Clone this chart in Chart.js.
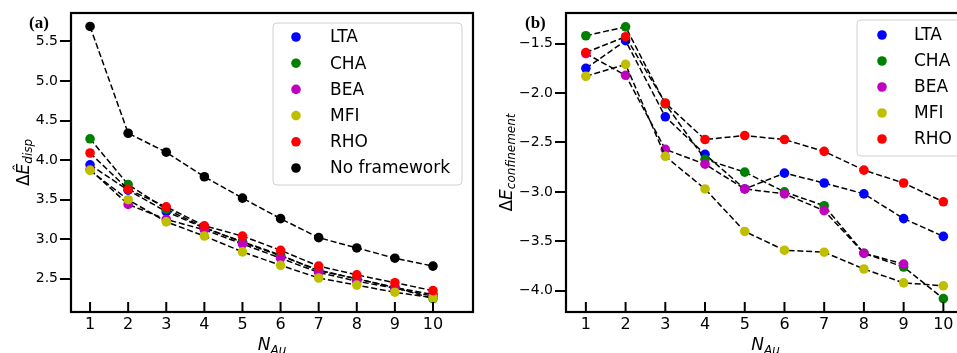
<!DOCTYPE html>
<html>
<head>
<meta charset="utf-8">
<script src="https://cdn.jsdelivr.net/npm/chart.js@4.4.0/dist/chart.umd.min.js"></script>
<style>
  html, body { margin: 0; padding: 0; background: #fff; overflow: hidden; }
  #wrap { position: relative; width: 957px; height: 353px; overflow: hidden; }
  #boxA { position: absolute; left: 0; top: 0; }
  #boxB { position: absolute; left: 480px; top: 0; }
</style>
</head>
<body>
<div id="wrap">
  <div id="boxA"><canvas id="chartA" width="480" height="353"></canvas></div>
  <div id="boxB"><canvas id="chartB" width="490" height="353"></canvas></div>
</div>
<script>
// number of Au atoms (x axis)
const nAu = [1, 2, 3, 4, 5, 6, 7, 8, 9, 10];
const frameworks = ["LTA", "CHA", "BEA", "MFI", "RHO"];
const frameworkColors = ["#0000ff", "#008000", "#bf00bf", "#bfbf00", "#ff0000"];

// (a) dispersion energy
const dispLTA = [3.94, 3.62, 3.35, 3.14, 2.97, 2.80, 2.60, 2.50, 2.39, 2.30];
const dispCHA = [4.27, 3.69, 3.38, 3.15, 2.96, 2.79, 2.61, 2.50, 2.39, 2.25];
const dispBEA = [3.88, 3.44, 3.25, 3.12, 2.94, 2.76, 2.58, 2.47, 2.38, 2.28];
const dispMFI = [3.87, 3.50, 3.22, 3.04, 2.84, 2.67, 2.51, 2.42, 2.33, 2.26];
const dispRHO = [4.09, 3.63, 3.41, 3.17, 3.04, 2.86, 2.66, 2.55, 2.45, 2.35];
const dispNoFramework = [5.69, 4.34, 4.10, 3.79, 3.52, 3.26, 3.02, 2.89, 2.76, 2.66];
const dispTicks = [2.5, 3.0, 3.5, 4.0, 4.5, 5.0, 5.5];

// (b) confinement energy
const confLTA = [-1.75, -1.47, -2.24, -2.62, -2.97, -2.81, -2.91, -3.02, -3.27, -3.45];
const confCHA = [-1.42, -1.33, -2.11, -2.67, -2.80, -3.00, -3.14, -3.62, -3.76, -4.08];
const confBEA = [-1.60, -1.82, -2.57, -2.72, -2.97, -3.02, -3.19, -3.62, -3.73, null];
const confMFI = [-1.83, -1.71, -2.64, -2.97, -3.40, -3.59, -3.61, -3.78, -3.92, -3.95];
const confRHO = [-1.59, -1.43, -2.10, -2.47, -2.43, -2.47, -2.59, -2.78, -2.91, -3.10];
const confTicks = [-4.0, -3.5, -3.0, -2.5, -2.0, -1.5];

const FONT = "DejaVu Sans";

const makeSet = (label, values, color, order) => ({
  label: label,
  data: nAu.map((n, i) => ({ x: n, y: values[i] })),
  borderColor: "#000",
  borderWidth: 1.5,
  borderDash: [6, 2.8],
  pointRadius: 4.8,
  pointHoverRadius: 4.8,
  pointBorderWidth: 0,
  pointBackgroundColor: color,
  pointBorderColor: color,
  fill: false,
  tension: 0,
  spanGaps: false,
  order: order,
});

// draws a run of text pieces (for subscripts)
function drawPieces(ctx, pieces, cx, baseY) {
  let total = 0;
  pieces.forEach((p) => { ctx.font = p.font; p.w = ctx.measureText(p.t).width; total += p.w; });
  let x = cx - total / 2;
  ctx.textBaseline = "alphabetic";
  ctx.textAlign = "left";
  pieces.forEach((p) => { ctx.font = p.font; ctx.fillText(p.t, x, baseY + (p.dy || 0)); x += p.w; });
}

function roundBox(ctx, x0, y0, x1, y1, r) {
  ctx.beginPath();
  ctx.moveTo(x0 + r, y0);
  ctx.arcTo(x1, y0, x1, y1, r);
  ctx.arcTo(x1, y1, x0, y1, r);
  ctx.arcTo(x0, y1, x0, y0, r);
  ctx.arcTo(x0, y0, x1, y0, r);
  ctx.closePath();
}

const panelDecor = {
  id: "panelDecor",
  afterDraw(chart, args, opts) {
    const ctx = chart.ctx;
    const a = chart.chartArea;
    const xs = chart.scales.x;
    ctx.save();
    ctx.fillStyle = "#000";
    ctx.strokeStyle = "#000";

    // inward x ticks
    ctx.lineWidth = 2;
    xs.ticks.forEach((t) => {
      const px = xs.getPixelForValue(t.value);
      ctx.beginPath();
      ctx.moveTo(px, a.bottom);
      ctx.lineTo(px, a.bottom - 10);
      ctx.stroke();
    });

    // frame
    ctx.lineWidth = 2.2;
    ctx.strokeRect(a.left, a.top, a.right - a.left, a.bottom - a.top);

    // legend
    const lg = opts.legend;
    ctx.fillStyle = "rgba(255,255,255,0.85)";
    ctx.strokeStyle = "#d0d0d0";
    ctx.lineWidth = 1;
    roundBox(ctx, lg.x0, lg.y0, lg.x1, lg.y1, 4);
    ctx.fill();
    ctx.stroke();
    chart.data.datasets.forEach((ds, i) => {
      const y = lg.first + i * lg.pitch;
      ctx.fillStyle = ds.pointBackgroundColor;
      ctx.beginPath();
      ctx.arc(lg.markerX, y, 4.8, 0, Math.PI * 2);
      ctx.fill();
      ctx.fillStyle = "#000";
      ctx.font = "17px '" + FONT + "'";
      ctx.textAlign = "left";
      ctx.textBaseline = "middle";
      ctx.fillText(ds.label, lg.textX, y + 1);
    });

    // panel label
    ctx.fillStyle = "#000";
    ctx.font = "bold 17px 'Liberation Serif'";
    ctx.textAlign = "left";
    ctx.textBaseline = "alphabetic";
    ctx.fillText(opts.panel, opts.panelX, 28);

    // x title N_Au
    drawPieces(ctx, [
      { t: "N", font: "italic 17px '" + FONT + "'" },
      { t: "Au", font: "italic 12px '" + FONT + "'", dy: 4 },
    ], (a.left + a.right) / 2, 350);

    // y title
    ctx.save();
    ctx.translate(opts.yTitleX, (a.top + a.bottom) / 2);
    ctx.rotate(-Math.PI / 2);
    drawPieces(ctx, opts.yTitle, 0, 0);
    ctx.restore();

    ctx.restore();
  },
};

function makeChart(id, sets, cfg) {
  return new Chart(document.getElementById(id), {
    type: "line",
    data: { datasets: sets },
    options: {
      responsive: false,
      animation: false,
      devicePixelRatio: 1,
      layout: { padding: { top: 13, right: cfg.padRight, left: 0, bottom: 0 } },
      plugins: {
        legend: { display: false },
        tooltip: { enabled: false },
        panelDecor: cfg.decor,
      },
      scales: {
        x: {
          type: "linear",
          min: cfg.xMin,
          max: cfg.xMax,
          afterBuildTicks: (s) => { s.ticks = nAu.map((v) => ({ value: v })); },
          afterFit: (s) => { s.height = 41; },
          grid: { display: false, drawTicks: false },
          border: { display: false },
          ticks: { color: "#000", padding: 3, maxRotation: 0, autoSkip: false, font: { family: FONT, size: 16 } },
        },
        y: {
          min: cfg.yMin,
          max: cfg.yMax,
          afterBuildTicks: (s) => { s.ticks = cfg.yTicks.map((v) => ({ value: v })); },
          afterFit: (s) => { s.width = cfg.yWidth; },
          grid: { drawOnChartArea: false, drawTicks: true, tickLength: 11, lineWidth: 2, color: "#000" },
          border: { display: false },
          ticks: {
            color: "#000",
            padding: 2,
            font: { family: FONT, size: 14 },
            callback: (v) => (v < 0 ? "\u2212" : "") + Math.abs(v).toFixed(1),
          },
        },
      },
    },
    plugins: [panelDecor],
  });
}

const dispValues = [dispLTA, dispCHA, dispBEA, dispMFI, dispRHO];
const confValues = [confLTA, confCHA, confBEA, confMFI, confRHO];

const setsA = frameworks.map((f, i) => makeSet(f, dispValues[i], frameworkColors[i], 10 - i));
setsA.push(makeSet("No framework", dispNoFramework, "#000000", 1));
const setsB = frameworks.map((f, i) => makeSet(f, confValues[i], frameworkColors[i], 10 - i));

makeChart("chartA", setsA, {
  padRight: 7, yWidth: 71,
  xMin: 0.5, xMax: 11.05, yMin: 2.08, yMax: 5.86, yTicks: dispTicks,
  decor: {
    panel: "(a)", panelX: 29, yTitleX: 29,
    yTitle: [
      { t: "\u0394", font: "17px '" + FONT + "'" },
      { t: "\u00CA", font: "italic 17px '" + FONT + "'" },
      { t: "disp", font: "italic 12px '" + FONT + "'", dy: 3 },
    ],
    legend: { x0: 273, y0: 23, x1: 462, y1: 185, first: 37, pitch: 26.2, markerX: 296, textX: 330 },
  },
});

makeChart("chartB", setsB, {
  padRight: 2, yWidth: 86,
  xMin: 0.5, xMax: 10.55, yMin: -4.215, yMax: -1.19, yTicks: confTicks,
  decor: {
    panel: "(b)", panelX: 45, yTitleX: 32,
    yTitle: [
      { t: "\u0394", font: "17px '" + FONT + "'" },
      { t: "E", font: "italic 17px '" + FONT + "'" },
      { t: "confinement", font: "italic 12px '" + FONT + "'", dy: 3 },
    ],
    legend: { x0: 377, y0: 20, x1: 480, y1: 156, first: 35, pitch: 26, markerX: 402, textX: 434 },
  },
});
</script>
</body>
</html>
